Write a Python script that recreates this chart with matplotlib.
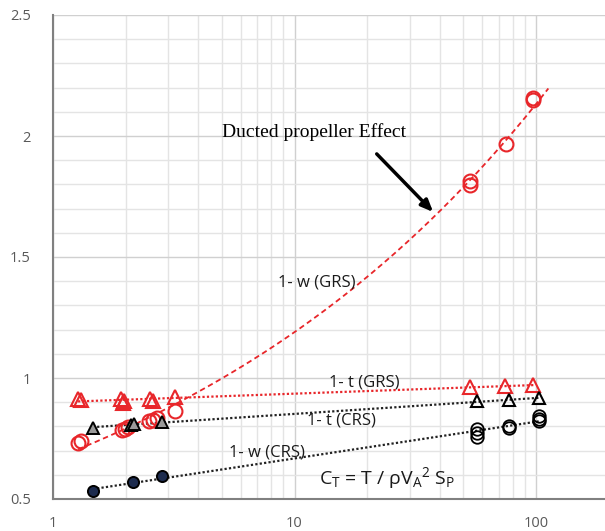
import numpy as np
import matplotlib
matplotlib.use("Agg")
import matplotlib.pyplot as plt
from matplotlib.ticker import FixedLocator, LogLocator, MultipleLocator, NullFormatter

plt.rcParams['font.family'] = ['Open Sans', 'DejaVu Sans']
plt.rcParams['mathtext.fontset'] = 'custom'
plt.rcParams['mathtext.rm'] = 'Open Sans'
plt.rcParams['mathtext.it'] = 'Open Sans'

# 1-t (GRS): red triangles
t_grs_x = [1.27, 1.30, 1.92, 1.97, 1.95, 2.52, 2.60, 3.20, 53.5, 74.5, 97.5]
t_grs_y = [0.915, 0.910, 0.915, 0.905, 0.895, 0.915, 0.905, 0.920, 0.963, 0.966, 0.972]

# 1-w (GRS): red circles
w_grs_x = [1.27, 1.30, 1.93, 1.98, 2.05, 2.50, 2.60, 2.70, 3.20, 53.3, 53.3, 75.0, 97.0, 97.5]
w_grs_y = [0.732, 0.738, 0.785, 0.790, 0.797, 0.822, 0.828, 0.836, 0.862,
           1.798, 1.815, 1.968, 2.148, 2.158]

# 1-t (CRS): black triangles, low and high CT groups
t_crs_lo_x = [1.46, 2.10, 2.17, 2.83]
t_crs_lo_y = [0.795, 0.805, 0.810, 0.818]
t_crs_hi_x = [57.0, 77.0, 103.0]
t_crs_hi_y = [0.903, 0.909, 0.917]

# 1-w (CRS): dark circles, low and high CT groups
w_crs_lo_x = [1.46, 2.14, 2.83]
w_crs_lo_y = [0.533, 0.570, 0.595]
w_crs_hi_x = [57.0, 57.0, 57.0, 77.0, 77.0, 103.0, 103.0, 103.0]
w_crs_hi_y = [0.789, 0.773, 0.758, 0.800, 0.793, 0.843, 0.830, 0.822]

x_ticks = [1, 10, 100]
y_ticks = [0.5, 1.0, 1.5, 2.0, 2.5]
y_ticklabels = ['0.5', '1', '1.5', '2', '2.5']

RED = '#e8262a'

fig = plt.figure(figsize=(6.05, 5.31), dpi=100)
# axes runs off the right edge like the cropped original (x up to 1000)
ax = fig.add_axes([53 / 605, 32 / 531, 3 * 241.5 / 605, 484 / 531])
ax.set_xscale('log')
ax.set_xlim(1, 1000)
ax.set_ylim(0.5, 2.5)

# grid
ax.yaxis.set_major_locator(FixedLocator(y_ticks))
ax.yaxis.set_minor_locator(MultipleLocator(0.1))
ax.xaxis.set_major_locator(FixedLocator(x_ticks))
ax.xaxis.set_minor_locator(LogLocator(base=10, subs=np.arange(2, 10)))
ax.xaxis.set_minor_formatter(NullFormatter())
ax.set_xticklabels([str(v) for v in x_ticks])
ax.set_yticklabels(y_ticklabels)
ax.grid(which='major', color='#d0d0d0', lw=1.0)
ax.grid(which='minor', color='#e4e4e4', lw=1.0)
ax.set_axisbelow(True)
ax.tick_params(which='both', length=0)
ax.tick_params(axis='y', pad=16, labelsize=10.5, labelcolor='#595959')
ax.tick_params(axis='x', pad=12, labelsize=10.5, labelcolor='#595959')
for s in ['top', 'right']:
    ax.spines[s].set_visible(False)
for s in ['left', 'bottom']:
    ax.spines[s].set_color('#808080')
    ax.spines[s].set_linewidth(1.5)


def log_trend(x, y):
    # Excel style logarithmic trendline
    b, a = np.polyfit(np.log(x), y, 1)
    xs = np.geomspace(min(x), max(x), 100)
    return xs, a + b * np.log(xs)


def power_trend(x, y, forward=0):
    b, a = np.polyfit(np.log(x), np.log(y), 1)
    xs = np.geomspace(min(x), max(x) + forward, 200)
    return xs, np.exp(a) * xs ** b


# trendlines
xs, ys = power_trend(w_grs_x, w_grs_y, forward=15)
ax.plot(xs, ys, color=RED, ls=(0, (3, 2)), lw=1.3)
xs, ys = log_trend(t_grs_x, t_grs_y)
ax.plot(xs, ys, color=RED, ls=(0, (1, 1)), lw=1.6)
xs, ys = log_trend(t_crs_lo_x + t_crs_hi_x, t_crs_lo_y + t_crs_hi_y)
ax.plot(xs, ys, color='#222222', ls=(0, (1, 1)), lw=1.6)
xs, ys = log_trend(w_crs_lo_x + w_crs_hi_x, w_crs_lo_y + w_crs_hi_y)
ax.plot(xs, ys, color='#222222', ls=(0, (1, 1)), lw=1.6)

# markers
ax.plot(t_grs_x, t_grs_y, ls='none', marker='^', ms=10, mfc='none', mec=RED, mew=1.5)
ax.plot(w_grs_x, w_grs_y, ls='none', marker='o', ms=10, mfc='none', mec=RED, mew=1.5)
ax.plot(t_crs_lo_x, t_crs_lo_y, ls='none', marker='^', ms=9, mfc='#9a9a9a', mec='black', mew=1.4)
ax.plot(t_crs_hi_x, t_crs_hi_y, ls='none', marker='^', ms=9, mfc='none', mec='black', mew=1.5)
ax.plot(w_crs_lo_x, w_crs_lo_y, ls='none', marker='o', ms=8, mfc='#1c2b4e', mec='black', mew=1.4)
ax.plot(w_crs_hi_x, w_crs_hi_y, ls='none', marker='o', ms=9, mfc='none', mec='black', mew=1.3)

# labels
lab = dict(fontsize=12, color='#1a1a1a', ha='center', va='center')
ax.text(12.4, 1.393, '1- w (GRS)', **lab)
ax.text(19.4, 0.983, '1- t (GRS)', **lab)
ax.text(15.6, 0.826, '1- t (CRS)', **lab)
ax.text(7.7, 0.694, '1- w (CRS)', **lab)
ax.text(12.6, 0.585, r'C$_T$ = T / ρV$_A$$^2$ S$_P$', fontsize=14,
        color='#1a1a1a', ha='left', va='center')

ax.text(12.05, 2.017, 'Ducted propeller Effect', family='Liberation Serif',
        fontsize=14, color='black', ha='center', va='center')
ax.annotate('', xy=(37.5, 1.686), xytext=(21.9, 1.926),
            arrowprops=dict(arrowstyle='-|>,head_length=0.7,head_width=0.3',
                            color='black', lw=2.5, shrinkA=0, shrinkB=0))

fig.savefig('out.png', dpi=100)
